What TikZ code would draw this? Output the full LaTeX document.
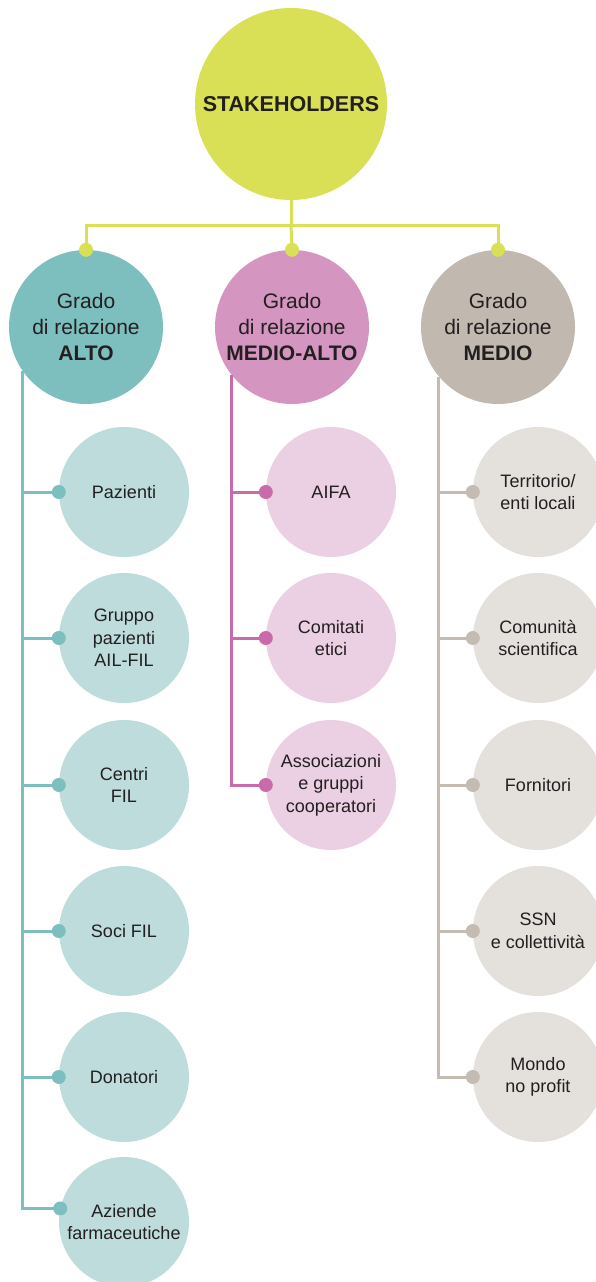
\documentclass[tikz,border=0pt]{standalone}
\usepackage{fontspec}
\setmainfont{Liberation Sans}
\usepackage{tikz}
\usetikzlibrary{calc}
\definecolor{yel}{HTML}{D9E055}
\definecolor{tealC}{HTML}{7DBFBF}
\definecolor{tealL}{HTML}{BEDCDC}
\definecolor{pinkC}{HTML}{D495C0}
\definecolor{pinkT}{HTML}{C96BAA}
\definecolor{pinkL}{HTML}{EBD0E4}
\definecolor{taupeC}{HTML}{C1B8B0}
\definecolor{taupeT}{HTML}{C4BBB2}
\definecolor{taupeL}{HTML}{E4E1DD}
\definecolor{ink}{HTML}{231F20}
\tikzset{
  hub/.style={circle, fill=yel, minimum size=192pt, inner sep=0pt, text=ink,
    font=\fontsize{21.5}{26}\selectfont\bfseries},
  grado/.style={circle, fill=#1, minimum size=154pt, inner sep=0pt, text=ink,
    align=center, font=\fontsize{21}{26}\selectfont},
  leaf/.style={circle, fill=#1, minimum size=130pt, inner sep=0pt, text=ink,
    align=center, font=\fontsize{18}{22.5}\selectfont},
  link/.style={draw=#1, line width=3pt}
}
\newcommand{\knob}[2]{\fill[#1] (#2) circle[radius=7pt];}

\begin{document}
\begin{tikzpicture}[x=1pt, y=-1pt]
    \useasboundingbox (0,0) rectangle (595,1282);
    % level1
    \node[hub] (stake) at (291,104) {STAKEHOLDERS};
    % level2
    \node[grado=tealC] (alto) at (86,327) {Grado\\di relazione\\\textbf{ALTO}};
    \node[grado=pinkC] (medioalto) at (292,327) {Grado\\di relazione\\\textbf{MEDIO-ALTO}};
    \node[grado=taupeC] (medio) at (498,327) {Grado\\di relazione\\\textbf{MEDIO}};
    % column1
    \node[leaf=tealL] (pazienti) at (124,492) {Pazienti};
    \node[leaf=tealL] (gruppo) at (124,638) {Gruppo\\pazienti\\AIL-FIL};
    \node[leaf=tealL] (centri) at (124,785) {Centri\\FIL};
    \node[leaf=tealL] (soci) at (124,931) {Soci FIL};
    \node[leaf=tealL] (donatori) at (124,1077) {Donatori};
    \node[leaf=tealL] (aziende) at (124,1222) {Aziende\\farmaceutiche};
    % column2
    \node[leaf=pinkL] (aifa) at (331,492) {AIFA};
    \node[leaf=pinkL] (comitati) at (331,638) {Comitati\\etici};
    \node[leaf=pinkL] (associazioni) at (331,785) {Associazioni\\e gruppi\\cooperatori};
    % column3
    \node[leaf=taupeL] (territorio) at (538,492) {Territorio/\\enti locali};
    \node[leaf=taupeL] (comunita) at (538,638) {Comunità\\scientifica};
    \node[leaf=taupeL] (fornitori) at (538,785) {Fornitori};
    \node[leaf=taupeL] (ssn) at (538,931) {SSN\\e collettività};
    \node[leaf=taupeL] (mondo) at (538,1077) {Mondo\\no profit};
    % top links
    \coordinate (bus) at (291,225);
    \draw[link=yel] (stake.south) -- (bus);
    \draw[link=yel] (alto.north) |- (bus) -| (medio.north);
    \draw[link=yel] (bus) -- (medioalto.north);
    \knob{yel}{alto.north}
    \knob{yel}{medioalto.north}
    \knob{yel}{medio.north}
    % column1 links
    \draw[link=tealC] (alto.215) |- (aziende.168);
    \draw[link=tealC] (alto.215 |- pazienti.west) -- (pazienti.west);
    \draw[link=tealC] (alto.215 |- gruppo.west) -- (gruppo.west);
    \draw[link=tealC] (alto.215 |- centri.west) -- (centri.west);
    \draw[link=tealC] (alto.215 |- soci.west) -- (soci.west);
    \draw[link=tealC] (alto.215 |- donatori.west) -- (donatori.west);
    \knob{tealC}{pazienti.west}
    \knob{tealC}{gruppo.west}
    \knob{tealC}{centri.west}
    \knob{tealC}{soci.west}
    \knob{tealC}{donatori.west}
    \knob{tealC}{aziende.168}
    % column2 links
    \draw[link=pinkT] (medioalto.218) |- (associazioni.west);
    \draw[link=pinkT] (medioalto.218 |- aifa.west) -- (aifa.west);
    \draw[link=pinkT] (medioalto.218 |- comitati.west) -- (comitati.west);
    \knob{pinkT}{aifa.west}
    \knob{pinkT}{comitati.west}
    \knob{pinkT}{associazioni.west}
    % column3 links
    \draw[link=taupeT] (medio.220) |- (mondo.west);
    \draw[link=taupeT] (medio.220 |- territorio.west) -- (territorio.west);
    \draw[link=taupeT] (medio.220 |- comunita.west) -- (comunita.west);
    \draw[link=taupeT] (medio.220 |- fornitori.west) -- (fornitori.west);
    \draw[link=taupeT] (medio.220 |- ssn.west) -- (ssn.west);
    \knob{taupeT}{territorio.west}
    \knob{taupeT}{comunita.west}
    \knob{taupeT}{fornitori.west}
    \knob{taupeT}{ssn.west}
    \knob{taupeT}{mondo.west}
\end{tikzpicture}
\end{document}
